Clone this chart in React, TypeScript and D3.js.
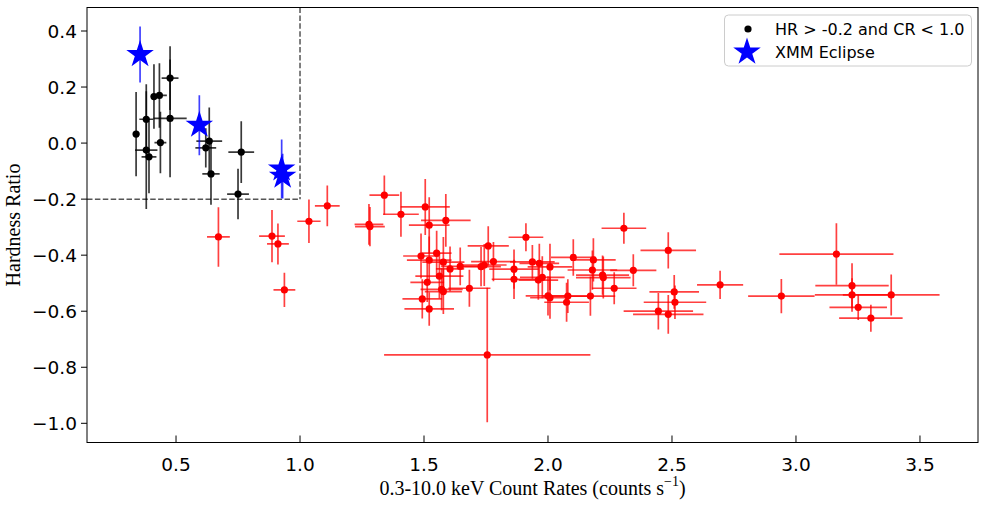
import React from "react";
import * as d3 from "d3";

// ---- data ----
const blackX = [0.339, 0.380, 0.380, 0.391, 0.411, 0.433, 0.437, 0.476, 0.476, 0.620, 0.634, 0.641, 0.763, 0.750];
const blackY = [0.032, 0.085, -0.025, -0.049, 0.166, 0.170, 0.002, 0.232, 0.088, -0.017, 0.007, -0.110, -0.032, -0.182];
const blackXErr = [0.013, 0.028, 0.045, 0.030, 0.012, 0.030, 0.024, 0.034, 0.067, 0.042, 0.052, 0.035, 0.052, 0.044];
const blackYErr = [0.150, 0.125, 0.210, 0.130, 0.115, 0.115, 0.110, 0.114, 0.210, 0.070, 0.120, 0.110, 0.110, 0.090];

const starX = [0.355, 0.594, 0.926, 0.930];
const starY = [0.316, 0.064, -0.092, -0.118];
const starYErr = [0.100, 0.107, 0.105, 0.080];

const redX = [0.671, 0.887, 0.911, 0.937, 1.036, 1.110, 1.278, 1.282, 1.340, 1.407,
  1.505, 1.521, 1.588, 1.488, 1.521, 1.551, 1.578, 1.605, 1.646, 1.562,
  1.513, 1.571, 1.578, 1.493, 1.521, 1.683, 1.730, 1.743, 1.759, 1.780,
  1.755, 1.863, 1.863, 1.911, 1.937, 1.965, 2.008, 1.961, 1.977, 2.000,
  2.008, 2.075, 2.080, 2.102, 2.171, 2.179, 2.183, 2.220, 2.223, 2.267,
  2.306, 2.344, 2.485, 2.509, 2.512, 2.445, 2.485, 2.694, 2.941, 3.163,
  3.226, 3.226, 3.384, 3.251, 3.302];
const redY = [-0.335, -0.332, -0.360, -0.524, -0.279, -0.224, -0.290, -0.298, -0.186, -0.254,
  -0.228, -0.293, -0.276, -0.403, -0.418, -0.393, -0.425, -0.449, -0.440, -0.475,
  -0.497, -0.522, -0.530, -0.556, -0.592, -0.518, -0.441, -0.435, -0.367, -0.423,
  -0.756, -0.450, -0.486, -0.336, -0.424, -0.429, -0.442, -0.489, -0.479, -0.545,
  -0.552, -0.568, -0.546, -0.408, -0.546, -0.453, -0.417, -0.471, -0.480, -0.518,
  -0.304, -0.454, -0.383, -0.531, -0.568, -0.600, -0.611, -0.506, -0.546, -0.396,
  -0.509, -0.542, -0.542, -0.586, -0.625];
const redXErr = [0.046, 0.052, 0.044, 0.044, 0.047, 0.050, 0.058, 0.060, 0.060, 0.072,
  0.099, 0.082, 0.100, 0.072, 0.090, 0.060, 0.085, 0.057, 0.077, 0.097,
  0.068, 0.085, 0.075, 0.080, 0.100, 0.085, 0.080, 0.090, 0.083, 0.090,
  0.416, 0.100, 0.090, 0.070, 0.090, 0.080, 0.090, 0.080, 0.090, 0.090,
  0.080, 0.090, 0.100, 0.090, 0.100, 0.100, 0.090, 0.107, 0.110, 0.090,
  0.090, 0.093, 0.112, 0.100, 0.126, 0.140, 0.142, 0.093, 0.134, 0.230,
  0.148, 0.150, 0.195, 0.116, 0.128];
const redYErr = [0.106, 0.093, 0.073, 0.061, 0.078, 0.073, 0.073, 0.070, 0.070, 0.080,
  0.100, 0.100, 0.094, 0.080, 0.085, 0.080, 0.090, 0.080, 0.067, 0.080,
  0.070, 0.075, 0.080, 0.070, 0.060, 0.066, 0.070, 0.075, 0.070, 0.070,
  0.240, 0.070, 0.070, 0.050, 0.060, 0.070, 0.083, 0.070, 0.075, 0.070,
  0.075, 0.070, 0.060, 0.065, 0.070, 0.070, 0.077, 0.070, 0.075, 0.057,
  0.055, 0.057, 0.065, 0.060, 0.060, 0.065, 0.069, 0.050, 0.061, 0.110,
  0.080, 0.060, 0.073, 0.045, 0.048];

const xTicks = [0.5, 1.0, 1.5, 2.0, 2.5, 3.0, 3.5];
const yTicks = [0.4, 0.2, 0.0, -0.2, -0.4, -0.6, -0.8, -1.0];
const hrCut = -0.2;
const crCut = 1.0;
const legendLabels = ["HR > -0.2 and CR < 1.0", "XMM Eclipse"];
const xLabel = "0.3-10.0 keV Count Rates (counts s";
const yLabel = "Hardness Ratio";

const W = 987, H = 507;
const L = 87, R = 978, T = 7.5, B = 442.5;

export default function App() {
  const x = d3.scaleLinear().domain([0.141, 3.734]).range([L, R]);
  const y = d3.scaleLinear().domain([-1.0, 0.4]).range([423.3, 31.0]);
  const starPath = d3.symbol().type(d3.symbolStar).size(235)() as string;
  const legStar = d3.symbol().type(d3.symbolStar).size(235)() as string;
  const fmt = (v: number) => (v < 0 ? "\u2212" : "") + Math.abs(v).toFixed(1);

  const errBars = (xs: number[], ys: number[], xe: number[] | null, ye: number[], color: string, key: string) =>
    xs.map((xv, i) => (
      <g key={key + i} stroke={color} strokeWidth={1.7}>
        {xe && xe[i] > 0 ? (
          <line x1={x(xv - xe[i])} x2={x(xv + xe[i])} y1={y(ys[i])} y2={y(ys[i])} />
        ) : null}
        <line x1={x(xv)} x2={x(xv)} y1={y(ys[i] - ye[i])} y2={y(ys[i] + ye[i])} />
      </g>
    ));

  return (
    <svg width={W} height={H} style={{ position: "absolute", left: 0, top: 0, background: "#fff" }}>
      <rect x={0} y={0} width={W} height={H} fill="#fff" />
      <defs>
        <clipPath id="plot">
          <rect x={L} y={T} width={R - L} height={B - T} />
        </clipPath>
      </defs>
      <g clipPath="url(#plot)">
        {/* dashed selection box */}
        <line x1={x(crCut)} x2={x(crCut)} y1={T} y2={y(hrCut)} stroke="#555" strokeWidth={1.5} strokeDasharray="5.5,2.4" />
        <line x1={L} x2={x(crCut)} y1={y(hrCut)} y2={y(hrCut)} stroke="#555" strokeWidth={1.5} strokeDasharray="5.5,2.4" />
        {/* red points */}
        {errBars(redX, redY, redXErr, redYErr, "rgba(255,0,0,0.75)", "re")}
        {redX.map((xv, i) => (
          <circle key={"rc" + i} cx={x(xv)} cy={y(redY[i])} r={3.6} fill="#ff0000" />
        ))}
        {/* black points */}
        {errBars(blackX, blackY, blackXErr, blackYErr, "rgba(0,0,0,0.78)", "be")}
        {blackX.map((xv, i) => (
          <circle key={"bc" + i} cx={x(xv)} cy={y(blackY[i])} r={3.6} fill="#000" />
        ))}
        {/* stars */}
        {errBars(starX, starY, null, starYErr, "rgba(0,0,255,0.75)", "se")}
        {starX.map((xv, i) => (
          <path key={"st" + i} d={starPath} transform={`translate(${x(xv)},${y(starY[i])})`} fill="#0000ff" />
        ))}
      </g>
      {/* frame */}
      <rect x={L} y={T} width={R - L} height={B - T} fill="none" stroke="#000" strokeWidth={1} />
      {/* x ticks */}
      {xTicks.map((t) => (
        <g key={"xt" + t}>
          <line x1={x(t)} x2={x(t)} y1={B} y2={B - 7} stroke="#000" strokeWidth={1} />
          <text x={x(t)} y={471} textAnchor="middle" fontFamily="DejaVu Sans" fontSize={18.5} fill="#000">
            {t.toFixed(1)}
          </text>
        </g>
      ))}
      {/* y ticks */}
      {yTicks.map((t) => (
        <g key={"yt" + t}>
          <line x1={L - 6} x2={L} y1={y(t)} y2={y(t)} stroke="#000" strokeWidth={1} />
          <text x={77} y={y(t) + 6.7} textAnchor="end" fontFamily="DejaVu Sans" fontSize={18.5} fill="#000">
            {fmt(t)}
          </text>
        </g>
      ))}
      {/* axis labels */}
      <text x={(L + R) / 2} y={495} textAnchor="middle" fontFamily="Liberation Serif" fontSize={20} fill="#000">
        {xLabel}
        <tspan dy={-9} fontSize={14}>{"\u22121"}</tspan>
        <tspan dy={9}>)</tspan>
      </text>
      <text transform={`translate(20,${(T + B) / 2}) rotate(-90)`} textAnchor="middle" fontFamily="Liberation Serif" fontSize={20} fill="#000">
        {yLabel}
      </text>
      {/* legend */}
      <g>
        <rect x={724.5} y={15} width={247} height={51} rx={4} fill="#fff" fillOpacity={0.8} stroke="#ccc" strokeWidth={1} />
        <circle cx={748} cy={29} r={3.6} fill="#000" />
        <path d={legStar} transform="translate(747,52)" fill="#0000ff" />
        <text x={775} y={35} fontFamily="DejaVu Sans" fontSize={16} fill="#000">{legendLabels[0]}</text>
        <text x={775} y={57.5} fontFamily="DejaVu Sans" fontSize={16} fill="#000">{legendLabels[1]}</text>
      </g>
    </svg>
  );
}
